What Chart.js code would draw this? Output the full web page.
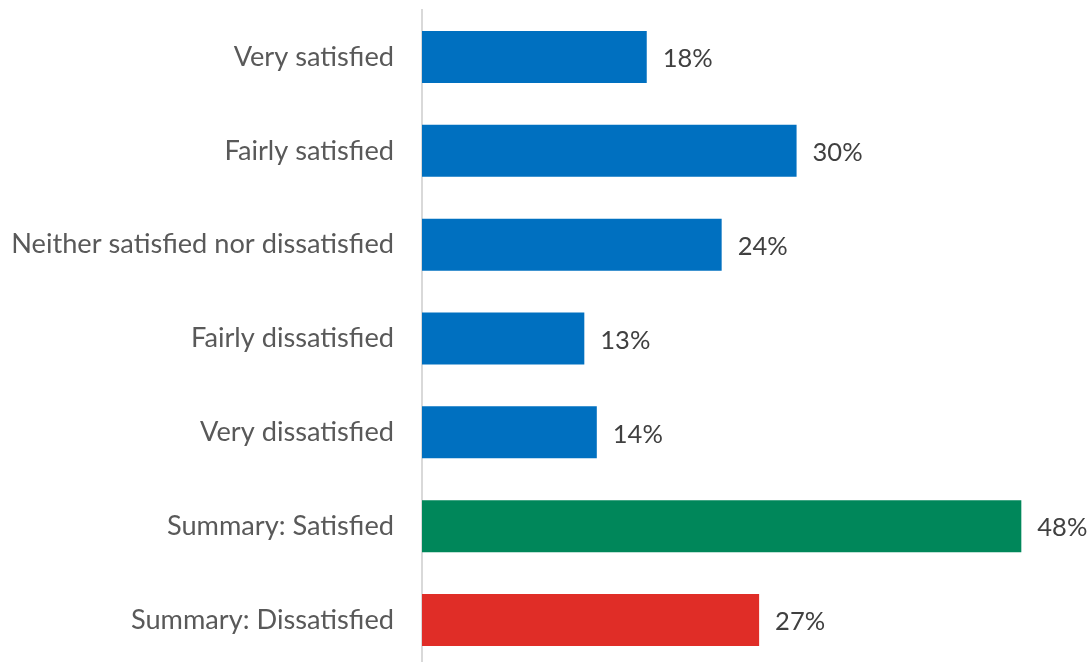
<!DOCTYPE html>
<html>
<head>
<meta charset="utf-8">
<script src="https://cdn.jsdelivr.net/npm/chart.js@4/dist/chart.umd.min.js"></script>
<style>
html,body{margin:0;padding:0;background:#fff;overflow:hidden;}
#wrap{position:relative;width:1090px;height:667px;}
</style>
</head>
<body>
<div id="wrap"><canvas id="c" width="1090" height="667"></canvas></div>
<script>
const categories = ["Very satisfied","Fairly satisfied","Neither satisfied nor dissatisfied","Fairly dissatisfied","Very dissatisfied","Summary: Satisfied","Summary: Dissatisfied"];
const values = [18,30,24,13,14,48,27];
const barColors = ["#0070C0","#0070C0","#0070C0","#0070C0","#0070C0","#00875A","#E02D27"];
const FONT = "Lato, 'Open Sans', sans-serif";

const valueLabels = {
  id:'valueLabels',
  afterDatasetsDraw(chart){
    const ctx = chart.ctx;
    const meta = chart.getDatasetMeta(0);
    ctx.save();
    ctx.font = "25.5px " + FONT;
    ctx.fillStyle = "#404040";
    ctx.textAlign = "left";
    ctx.textBaseline = "middle";
    meta.data.forEach((bar,i)=>{
      ctx.fillText(values[i] + "%", bar.x + 16, bar.y + 2);
    });
    ctx.restore();
  }
};

new Chart(document.getElementById('c'), {
  type:'bar',
  data:{labels:categories, datasets:[{data:values, backgroundColor:barColors, barPercentage:0.554, categoryPercentage:1}]},
  options:{
    indexAxis:'y', responsive:false, animation:false,
    layout:{padding:{top:10,bottom:0,left:0,right:0}},
    plugins:{legend:{display:false}, tooltip:{enabled:false}},
    scales:{
      x:{display:false, min:0, max:53.5},
      y:{
        grid:{display:false},
        border:{display:true,color:"#d9d9d9",width:2},
        ticks:{color:"#595959", font:{family:FONT,size:27.2}, padding:20},
        afterFit(s){ s.width = 422; s.paddingTop = 0; s.paddingBottom = 0; }
      }
    }
  },
  plugins:[valueLabels]
});
</script>
</body>
</html>
